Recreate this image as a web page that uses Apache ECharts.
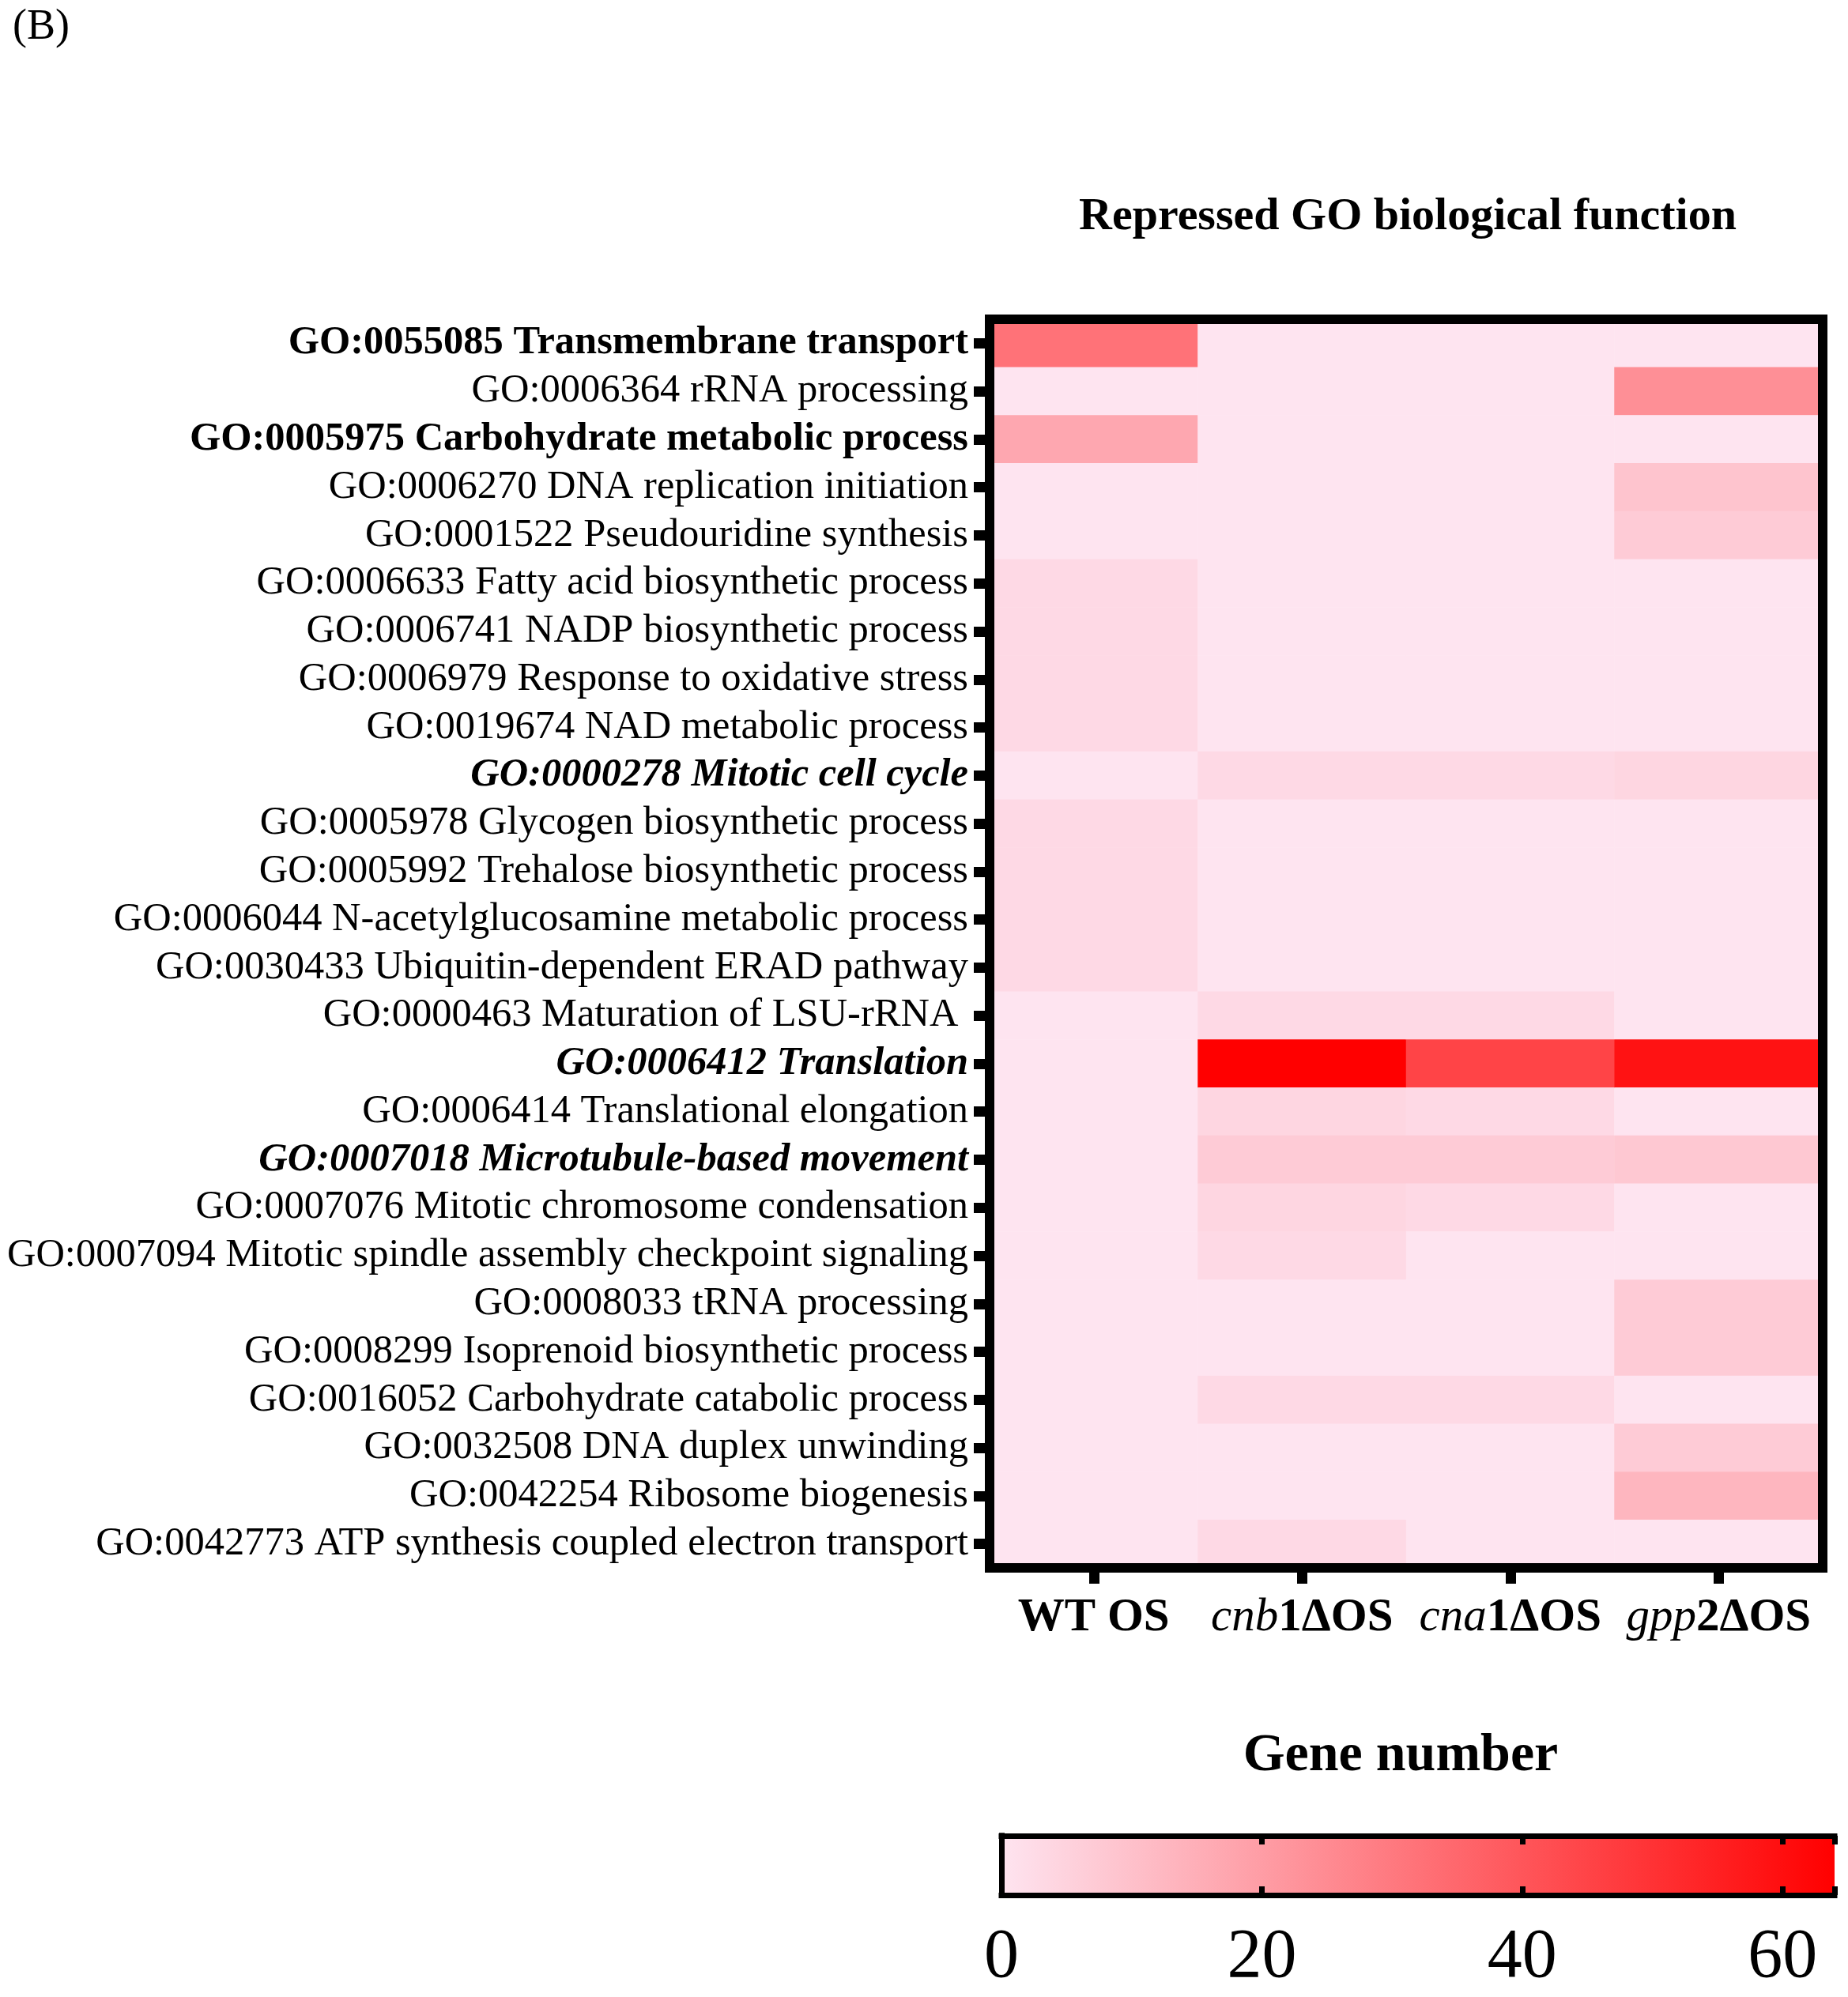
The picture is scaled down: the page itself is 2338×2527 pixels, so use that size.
<!DOCTYPE html>
<html>
<head>
<meta charset="utf-8">
<script src="https://cdn.jsdelivr.net/npm/echarts@6/dist/echarts.min.js"></script>
<style>
  html, body { margin: 0; padding: 0; background: #fff; }
  #main { width: 2338px; height: 2527px; }
</style>
</head>
<body>
<div id="main"></div>
<script>
var FONT = '"Liberation Serif", "Times New Roman", serif';

// columns (x axis)
var strains = ['WT OS', 'cnb1ΔOS', 'cna1ΔOS', 'gpp2ΔOS'];
var strainLabels = ['{b|WT OS}', '{i|cnb}{b|1ΔOS}', '{i|cna}{b|1ΔOS}', '{i|gpp}{b|2ΔOS}'];

// rows (y axis), top to bottom
var goTerms = [
  'GO:0055085 Transmembrane transport',
  'GO:0006364 rRNA processing',
  'GO:0005975 Carbohydrate metabolic process',
  'GO:0006270 DNA replication initiation',
  'GO:0001522 Pseudouridine synthesis',
  'GO:0006633 Fatty acid biosynthetic process',
  'GO:0006741 NADP biosynthetic process',
  'GO:0006979 Response to oxidative stress',
  'GO:0019674 NAD metabolic process',
  'GO:0000278 Mitotic cell cycle',
  'GO:0005978 Glycogen biosynthetic process',
  'GO:0005992 Trehalose biosynthetic process',
  'GO:0006044 N-acetylglucosamine metabolic process',
  'GO:0030433 Ubiquitin-dependent ERAD pathway',
  'GO:0000463 Maturation of LSU-rRNA ',
  'GO:0006412 Translation',
  'GO:0006414 Translational elongation',
  'GO:0007018 Microtubule-based movement',
  'GO:0007076 Mitotic chromosome condensation',
  'GO:0007094 Mitotic spindle assembly checkpoint signaling',
  'GO:0008033 tRNA processing',
  'GO:0008299 Isoprenoid biosynthetic process',
  'GO:0016052 Carbohydrate catabolic process',
  'GO:0032508 DNA duplex unwinding',
  'GO:0042254 Ribosome biogenesis',
  'GO:0042773 ATP synthesis coupled electron transport'
];
// n = normal, b = bold, bi = bold italic
var goStyle = ['b', 'n', 'b', 'n', 'n', 'n', 'n', 'n', 'n', 'bi', 'n', 'n', 'n',
  'n', 'n', 'bi', 'n', 'bi', 'n', 'n', 'n', 'n', 'n', 'n', 'n', 'n'];

// gene numbers per column, same order as goTerms
var wtOS   = [32, 0, 17, 0, 0, 3, 3, 3, 3, 0, 3, 3, 3, 3, 0, 0, 0, 0, 0, 0, 0, 0, 0, 0, 0, 0];
var cnb1OS = [0, 0, 0, 0, 0, 0, 0, 0, 0, 3, 0, 0, 0, 0, 3, 64, 4, 7, 4, 3, 0, 0, 3, 0, 0, 3];
var cna1OS = [0, 0, 0, 0, 0, 0, 0, 0, 0, 3, 0, 0, 0, 0, 3, 45, 3, 7, 3, 0, 0, 0, 3, 0, 0, 0];
var gpp2OS = [0, 24, 0, 9, 7, 0, 0, 0, 0, 4, 0, 0, 0, 0, 0, 59, 0, 8, 0, 0, 7, 7, 0, 7, 13, 0];

// colour scale
var colorMin = 0;
var colorMax = 64;
var lowColor = '#FEE4F0';
var highColor = '#FF0000';

var columns = [wtOS, cnb1OS, cna1OS, gpp2OS];
var cells = [];
columns.forEach(function (col, x) {
  col.forEach(function (v, y) {
    cells.push([x, y, v]);
  });
});

var richY = {
  n:  { fontFamily: FONT, fontSize: 50.5, color: '#000' },
  b:  { fontFamily: FONT, fontSize: 50.5, color: '#000', fontWeight: 'bold' },
  bi: { fontFamily: FONT, fontSize: 50.5, color: '#000', fontWeight: 'bold', fontStyle: 'italic' }
};
var richX = {
  b: { fontFamily: FONT, fontSize: 59, color: '#000', fontWeight: 'bold' },
  i: { fontFamily: FONT, fontSize: 59, color: '#000', fontStyle: 'italic' }
};

// only 0, 20, 40, 60 are labelled on the colour bar
function colorTicks(v) {
  return v % 20 === 0 ? String(v) : '';
}

function frameLine(w) {
  return { show: true, lineStyle: { color: '#000', width: w, cap: 'square' } };
}

var chart = echarts.init(document.getElementById('main'));

var option = {
  backgroundColor: '#fff',
  animation: false,
  title: [
    {
      text: '(B)', left: 16, top: 8, padding: 0,
      textStyle: { fontFamily: FONT, fontSize: 54, fontWeight: 'normal', color: '#000' }
    },
    {
      text: 'Repressed GO biological function', left: 1781, top: 246, padding: 0, textAlign: 'center',
      textStyle: { fontFamily: FONT, fontSize: 58, fontWeight: 'bold', color: '#000' }
    },
    {
      text: 'Gene number', left: 1772, top: 2188, padding: 0, textAlign: 'center',
      textStyle: { fontFamily: FONT, fontSize: 68, fontWeight: 'bold', color: '#000' }
    }
  ],
  grid: [
    { left: 1252, top: 404, width: 1054, height: 1580, outerBoundsMode: 'none', containLabel: false },
    { left: 1267, top: 2323, width: 1054, height: 75, outerBoundsMode: 'none', containLabel: false }
  ],
  visualMap: {
    type: 'continuous',
    show: false,
    seriesIndex: 0,
    min: colorMin,
    max: colorMax,
    inRange: { color: [lowColor, highColor] }
  },
  xAxis: [
    {
      gridIndex: 0, type: 'category', data: strains, position: 'bottom', z: 10,
      axisLine: frameLine(12),
      axisTick: { show: true, alignWithLabel: true, length: 20, lineStyle: { color: '#000', width: 13 } },
      axisLabel: {
        show: true, margin: 34, interval: 0,
        formatter: function (v, i) { return strainLabels[i]; },
        rich: richX
      },
      splitLine: { show: false }
    },
    {
      gridIndex: 0, type: 'category', data: strains, position: 'top', z: 10,
      axisLine: frameLine(12),
      axisTick: { show: false },
      axisLabel: { show: false },
      splitLine: { show: false }
    },
    {
      gridIndex: 1, type: 'value', min: colorMin, max: colorMax, interval: 20, position: 'bottom', z: 10,
      axisLine: frameLine(7),
      axisTick: { show: true, inside: true, length: 11, lineStyle: { color: '#000', width: 7 } },
      axisLabel: {
        show: true, margin: 36,
        fontFamily: FONT, fontSize: 88, color: '#000',
        formatter: function (v) { return colorTicks(v); }
      },
      splitLine: { show: false }
    },
    {
      gridIndex: 1, type: 'value', min: colorMin, max: colorMax, interval: 20, position: 'top', z: 10,
      axisLine: frameLine(7),
      axisTick: { show: true, inside: true, length: 11, lineStyle: { color: '#000', width: 7 } },
      axisLabel: { show: false },
      splitLine: { show: false }
    }
  ],
  yAxis: [
    {
      gridIndex: 0, type: 'category', data: goTerms, inverse: true, position: 'left', z: 10,
      axisLine: frameLine(12),
      axisTick: { show: true, alignWithLabel: true, length: 20, lineStyle: { color: '#000', width: 13 } },
      axisLabel: {
        show: true, margin: 27, interval: 0,
        formatter: function (v, i) { return '{' + goStyle[i] + '|' + v + '}'; },
        rich: richY
      },
      splitLine: { show: false }
    },
    {
      gridIndex: 0, type: 'category', data: goTerms, inverse: true, position: 'right', z: 10,
      axisLine: frameLine(12),
      axisTick: { show: false },
      axisLabel: { show: false },
      splitLine: { show: false }
    },
    {
      gridIndex: 1, type: 'category', data: ['scale'], position: 'left', z: 10,
      axisLine: frameLine(7),
      axisTick: { show: false }, axisLabel: { show: false }, splitLine: { show: false }
    },
    {
      gridIndex: 1, type: 'category', data: ['scale'], position: 'right', z: 10,
      axisLine: frameLine(7),
      axisTick: { show: false }, axisLabel: { show: false }, splitLine: { show: false }
    }
  ],
  series: [
    {
      type: 'heatmap',
      xAxisIndex: 0, yAxisIndex: 0,
      data: cells,
      itemStyle: { borderWidth: 0 },
      emphasis: { disabled: true },
      silent: true
    },
    {
      type: 'bar',
      xAxisIndex: 2, yAxisIndex: 2,
      data: [colorMax],
      barWidth: '100%',
      silent: true,
      itemStyle: {
        color: {
          type: 'linear', x: 0, y: 0, x2: 1, y2: 0,
          colorStops: [{ offset: 0, color: lowColor }, { offset: 1, color: highColor }]
        }
      }
    }
  ]
};

chart.setOption(option);
</script>
</body>
</html>
